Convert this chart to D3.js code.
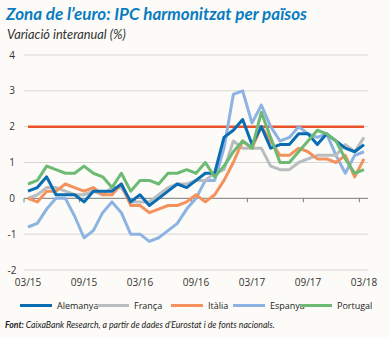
<!DOCTYPE html>
<html><head><meta charset="utf-8">
<script src="https://cdn.jsdelivr.net/npm/d3@7/dist/d3.min.js"></script>
<style>
html,body{margin:0;padding:0;background:#fcfbf7;}
svg{display:block;font-family:"Open Sans",sans-serif;}
</style></head>
<body>
<svg id="c" width="389" height="338"></svg>
<script>
const months = ["03/15","04/15","05/15","06/15","07/15","08/15","09/15","10/15","11/15","12/15",
"01/16","02/16","03/16","04/16","05/16","06/16","07/16","08/16","09/16","10/16","11/16","12/16",
"01/17","02/17","03/17","04/17","05/17","06/17","07/17","08/17","09/17","10/17","11/17","12/17",
"01/18","02/18","03/18"];
const tickLabels = ["03/15","09/15","03/16","09/16","03/17","09/17","03/18"];
const yTicks = [-2,-1,0,1,2,3,4];
const alemanya = [0.2,0.3,0.6,0.1,0.1,0.1,-0.1,0.2,0.2,0.2,0.4,-0.1,0.1,-0.2,0.0,0.2,0.4,0.3,0.5,0.7,0.7,1.7,1.9,2.2,1.5,2.0,1.4,1.5,1.5,1.8,1.8,1.5,1.8,1.6,1.4,1.3,1.5];
const franca = [0.0,0.1,0.3,0.3,0.2,0.1,0.1,0.2,0.1,0.3,0.3,-0.1,-0.1,-0.1,0.1,0.3,0.4,0.4,0.5,0.5,0.7,0.8,1.6,1.4,1.4,1.4,0.9,0.8,0.8,1.0,1.1,1.2,1.2,1.2,1.5,1.3,1.7];
const italia = [0.0,-0.1,0.2,0.2,0.4,0.3,0.2,0.3,0.1,0.1,0.4,-0.2,-0.2,-0.4,-0.3,-0.2,-0.2,-0.1,0.1,-0.1,0.1,0.5,1.0,1.6,1.4,2.0,1.6,1.2,1.2,1.4,1.3,1.1,1.1,1.0,1.2,0.6,1.1];
const espanya = [-0.8,-0.7,-0.3,0.0,0.0,-0.5,-1.1,-0.9,-0.4,-0.1,-0.4,-1.0,-1.0,-1.2,-1.1,-0.9,-0.7,-0.3,0.0,0.5,0.5,1.4,2.9,3.0,2.1,2.6,2.0,1.6,1.7,2.0,1.8,1.7,1.8,1.2,0.7,1.2,1.3];
const portugal = [0.4,0.5,0.9,0.8,0.7,0.7,0.9,0.7,0.6,0.3,0.7,0.2,0.5,0.5,0.4,0.7,0.7,0.8,0.7,1.0,0.6,0.9,1.3,1.6,1.4,2.4,1.7,1.0,1.0,1.3,1.6,1.9,1.8,1.6,1.1,0.7,0.8];
const objectiu = months.map(() => 2);

const seriesNames = ["Alemanya","França","Itàlia","Espanya","Portugal"];
const seriesData = [alemanya, franca, italia, espanya, portugal];
const colors = ["#0a6db4","#b8bec0","#f4915c","#8db3e2","#6cba73"];
// draw order (back to front)
const drawOrder = [3,1,2,0,4];

const svg = d3.select("#c");
const x = d3.scalePoint().domain(months).range([28,364]);
const y = d3.scaleLinear().domain([-2,4]).range([270,55]);
const step = x.step();

// title
svg.append("text").attr("x",6).attr("y",20)
  .attr("font-size",17).attr("font-weight","bold").attr("font-style","italic")
  .attr("fill","#0a7cc1").attr("font-family","Lato, 'Open Sans', sans-serif")
  .text("Zona de l’euro: IPC harmonitzat per països");
svg.append("text").attr("x",7).attr("y",39)
  .attr("font-size",12.8).attr("font-style","italic").attr("fill","#333")
  .attr("font-family","Lato, 'Open Sans', sans-serif")
  .text("Variació interanual (%)");

// gridlines
svg.append("g").selectAll("line").data(yTicks.filter(d=>d!==0)).join("line")
  .attr("x1",24).attr("x2",368).attr("y1",d=>y(d)).attr("y2",d=>y(d))
  .attr("stroke","#d6d6d6").attr("stroke-width",1);

// y labels
svg.append("g").selectAll("text").data(yTicks).join("text")
  .attr("x",12).attr("y",d=>y(d)).attr("dy","0.35em")
  .attr("text-anchor","middle").attr("font-size",10).attr("fill","#333")
  .text(d=>d);

// zero axis
svg.append("line").attr("x1",24).attr("x2",368).attr("y1",y(0)).attr("y2",y(0))
  .attr("stroke","#7a7a7a").attr("stroke-width",1);
const tickIdx = tickLabels.map(t=>months.indexOf(t));
svg.append("g").selectAll("line").data(tickIdx).join("line")
  .attr("x1",i=>i===0?24:x(months[i])-step/2).attr("x2",i=>i===0?24:x(months[i])-step/2)
  .attr("y1",y(0)).attr("y2",y(0)+4)
  .attr("stroke","#7a7a7a").attr("stroke-width",1);

// x labels
svg.append("g").selectAll("text").data(tickLabels).join("text")
  .attr("x",d=>x(d)).attr("y",286).attr("text-anchor","middle")
  .attr("font-size",10).attr("fill","#333").text(d=>d);

// 2% line
const line = d3.line().x((d,i)=>x(months[i])).y(d=>y(d));
svg.append("path").datum(objectiu).attr("d",line).attr("fill","none")
  .attr("stroke","#e9532b").attr("stroke-width",2.5);

// series
drawOrder.forEach(k=>{
  svg.append("path").datum(seriesData[k]).attr("d",line).attr("fill","none")
    .attr("stroke",colors[k]).attr("stroke-width",3).attr("stroke-linejoin","round");
});

// legend
const legX = [20,97,171,233,300];
const lg = svg.append("g");
seriesNames.forEach((n,i)=>{
  lg.append("line").attr("x1",legX[i]).attr("x2",legX[i]+32).attr("y1",305.5).attr("y2",305.5)
    .attr("stroke",colors[i]).attr("stroke-width",3);
  lg.append("text").attr("x",legX[i]+37).attr("y",309).attr("font-size",9).attr("fill","#222")
    .text(n);
});

// source
const src = svg.append("text").attr("x",5).attr("y",328).attr("font-size",8.7)
  .attr("font-style","italic").attr("fill","#222").attr("font-family","Lato, 'Open Sans', sans-serif");
src.append("tspan").attr("font-weight","bold").text("Font: ");
src.append("tspan").text("CaixaBank Research, a partir de dades d’Eurostat i de fonts nacionals.");
</script>
</body></html>
